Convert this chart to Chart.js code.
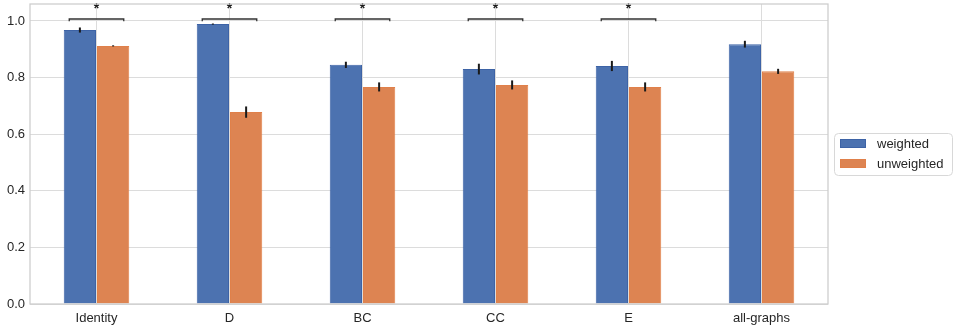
<!DOCTYPE html>
<html>
<head>
<meta charset="utf-8">
<script src="https://cdn.jsdelivr.net/npm/chart.js@4"></script>
<style>
  html,body{margin:0;padding:0;background:#fff;}
  #wrap{width:957px;height:330px;}
</style>
</head>
<body>
<div id="wrap"><canvas id="chart" width="957" height="330"></canvas></div>
<script>
/* === DATA === */
const categories = ["Identity", "D", "BC", "CC", "E", "all-graphs"];
const weighted = [0.968, 0.989, 0.845, 0.830, 0.841, 0.918];
const weightedErr = [0.009, 0.002, 0.011, 0.019, 0.018, 0.012];
const unweighted = [0.912, 0.678, 0.767, 0.774, 0.767, 0.822];
const unweightedErr = [0.002, 0.020, 0.016, 0.016, 0.016, 0.009];
const significant = [true, true, true, true, true, false];
const yTicks = [0.0, 0.2, 0.4, 0.6, 0.8, 1.0];

const FONT = "'Liberation Sans', Arial, sans-serif";
const TEXT = "#262626";

/* === ERROR BARS + BRACKETS === */
const extras = {
  id: "extras",
  afterDatasetsDraw(chart){
    const ctx = chart.ctx, y = chart.scales.y, x = chart.scales.x;
    const errs = [weightedErr, unweightedErr];
    ctx.save();
    ctx.strokeStyle = "#1a1a1a";
    ctx.lineWidth = 2;
    chart.data.datasets.forEach((ds, di) => {
      chart.getDatasetMeta(di).data.forEach((bar, i) => {
        const v = ds.data[i], e = errs[di][i];
        ctx.beginPath();
        ctx.moveTo(bar.x, y.getPixelForValue(v - e));
        ctx.lineTo(bar.x, y.getPixelForValue(v + e));
        ctx.stroke();
      });
    });
    // significance brackets
    const catW = x.getPixelForValue(1) - x.getPixelForValue(0);
    ctx.strokeStyle = "#333";
    ctx.lineWidth = 1.3;
    ctx.fillStyle = "#1a1a1a";
    ctx.font = "bold 14px " + FONT;
    ctx.textAlign = "center";
    ctx.textBaseline = "middle";
    significant.forEach((s, i) => {
      if(!s) return;
      const cx = x.getPixelForValue(i);
      const x0 = cx - 0.205 * catW, x1 = cx + 0.205 * catW;
      const yb = y.getPixelForValue(1.007), yt = y.getPixelForValue(0.999);
      ctx.beginPath();
      ctx.moveTo(x0, yt); ctx.lineTo(x0, yb); ctx.lineTo(x1, yb); ctx.lineTo(x1, yt);
      ctx.stroke();
      ctx.fillText("*", cx, y.getPixelForValue(1.041));
    });
    ctx.restore();
  },
  afterDraw(chart){
    const ctx = chart.ctx, a = chart.chartArea;
    ctx.save();
    // frame
    ctx.strokeStyle = "#cccccc";
    ctx.lineWidth = 1.25;
    ctx.strokeRect(a.left, a.top, a.right - a.left, a.bottom - a.top);
    // legend
    const lx = 834, ly = 133, lw = 118, lh = 42;
    ctx.strokeStyle = "#d8d8d8";
    ctx.lineWidth = 1;
    ctx.beginPath();
    ctx.roundRect(lx + 0.5, ly + 0.5, lw, lh, 4);
    ctx.stroke();
    ctx.font = "13px " + FONT;
    ctx.textAlign = "left";
    ctx.textBaseline = "middle";
    chart.data.datasets.forEach((ds, i) => {
      const ry = ly + 6 + i * 20;
      ctx.fillStyle = ds.backgroundColor;
      ctx.fillRect(lx + 6, ry, 26, 9);
      ctx.strokeStyle = ds.borderColor;
      ctx.strokeRect(lx + 6.5, ry + 0.5, 25, 8);
      ctx.fillStyle = TEXT;
      ctx.fillText(ds.label, lx + 43, ry + 5);
    });
    ctx.restore();
  }
};

/* === CHART === */
new Chart(document.getElementById("chart"), {
  type: "bar",
  data: {
    labels: categories,
    datasets: [
      {label: "weighted", data: weighted, backgroundColor: "#4c72b0", borderColor: "#3d63a6", borderWidth: 1, categoryPercentage: 0.5, barPercentage: 0.97},
      {label: "unweighted", data: unweighted, backgroundColor: "#dd8452", borderColor: "#e0804a", borderWidth: 1, categoryPercentage: 0.5, barPercentage: 0.97}
    ]
  },
  options: {
    responsive: false,
    devicePixelRatio: 1,
    animation: false,
    layout: {padding: {top: 4, right: 129, left: 0, bottom: 0}},
    plugins: {legend: {display: false}, tooltip: {enabled: false}},
    scales: {
      x: {
        grid: {offset: false, color: "#dcdcdc", drawTicks: false},
        border: {display: false},
        ticks: {color: TEXT, font: {family: FONT, size: 13}, padding: 7, maxRotation: 0},
        afterFit(s){ s.height = 26; s.paddingLeft = 0; s.paddingRight = 0; }
      },
      y: {
        min: 0, max: 1.06,
        grid: {color: "#dcdcdc", drawTicks: false},
        border: {display: false},
        afterBuildTicks(s){ s.ticks = yTicks.map(v => ({value: v})); },
        ticks: {color: TEXT, font: {family: FONT, size: 13}, padding: 5, callback: v => v.toFixed(1)},
        afterFit(s){ s.width = 30; s.paddingTop = 0; s.paddingBottom = 0; }
      }
    }
  },
  plugins: [extras]
});
</script>
</body>
</html>
